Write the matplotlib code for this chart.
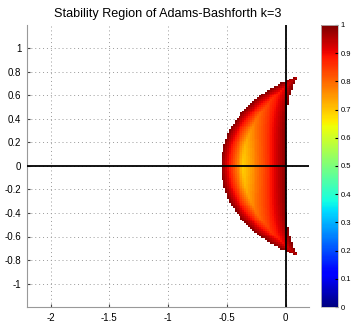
import numpy as np
import matplotlib
matplotlib.use("Agg")
import matplotlib.pyplot as plt

# Adams-Bashforth k=3: rho(zeta) - z*sigma(zeta) = 0
rho = np.array([1.0, -1.0, 0.0, 0.0])
sigma = np.array([0.0, 23.0, -16.0, 5.0]) / 12.0

x_lim = [-2.2, 0.2]
y_lim = [-1.2, 1.2]
x_ticks = [-2, -1.5, -1, -0.5, 0]
y_ticks = [-1, -0.8, -0.6, -0.4, -0.2, 0, 0.2, 0.4, 0.6, 0.8, 1]
cbar_ticks = [0, 0.1, 0.2, 0.3, 0.4, 0.5, 0.6, 0.7, 0.8, 0.9, 1]
step = 0.016

plt.rcParams['font.family'] = ['Liberation Sans', 'DejaVu Sans']

xs = np.arange(x_lim[0], x_lim[1] + step, step)
ys = np.arange(y_lim[0], y_lim[1] + step, step)
X, Y = np.meshgrid(xs, ys)
Z = (X + 1j * Y).ravel()

# largest root modulus of the characteristic polynomial, via companion matrices
coef = rho[None, :] - Z[:, None] * sigma[None, :]
coef = coef / coef[:, :1]
n = len(rho) - 1
comp = np.zeros((len(Z), n, n), dtype=complex)
comp[:, 0, :] = -coef[:, 1:]
for i in range(1, n):
    comp[:, i, i - 1] = 1
amp = np.abs(np.linalg.eigvals(comp)).max(axis=1).reshape(X.shape)
amp = np.ma.masked_where(amp > 1, amp)

fig = plt.figure(figsize=(3.63, 3.27), dpi=100)
ax = fig.add_axes([27 / 363, 20 / 327, 282 / 363, 282 / 327])
cax = fig.add_axes([321 / 363, 20 / 327, 17 / 363, 282 / 327])

im = ax.pcolormesh(xs, ys, amp, cmap='jet', vmin=0, vmax=1, shading='nearest')
ax.axhline(0, color='black', lw=1.3, zorder=3)
ax.axvline(0, color='black', lw=1.3, zorder=3)

ax.set_xlim(x_lim)
ax.set_ylim(y_lim)
ax.set_xticks(x_ticks)
ax.set_xticklabels(['-2', '-1.5', '-1', '-0.5', '0'])
ax.set_yticks(y_ticks)
ax.set_yticklabels(['-1', '-0.8', '-0.6', '-0.4', '-0.2', '0', '0.2', '0.4', '0.6', '0.8', '1'])
ax.grid(True, linestyle=(0, (1, 3)), color='#999999', lw=0.7)
ax.set_axisbelow(True)
ax.tick_params(direction='in', length=2, labelsize=7, colors='#444444', labelcolor='black', pad=4)
for s in ['top', 'right']:
    ax.spines[s].set_visible(False)
for s in ['left', 'bottom']:
    ax.spines[s].set_color('#999999')
    ax.spines[s].set_linewidth(0.8)
ax.set_title('Stability Region of Adams-Bashforth k=3', fontsize=9.1, pad=6)

cb = fig.colorbar(im, cax=cax, ticks=cbar_ticks)
cb.ax.tick_params(direction='in', length=2, labelsize=5.5, pad=2)
cb.ax.set_yticklabels(['0', '0.1', '0.2', '0.3', '0.4', '0.5', '0.6', '0.7', '0.8', '0.9', '1'])
cb.outline.set_edgecolor('#bbbbbb')
cb.outline.set_linewidth(0.6)

fig.savefig('out.png', dpi=100)
